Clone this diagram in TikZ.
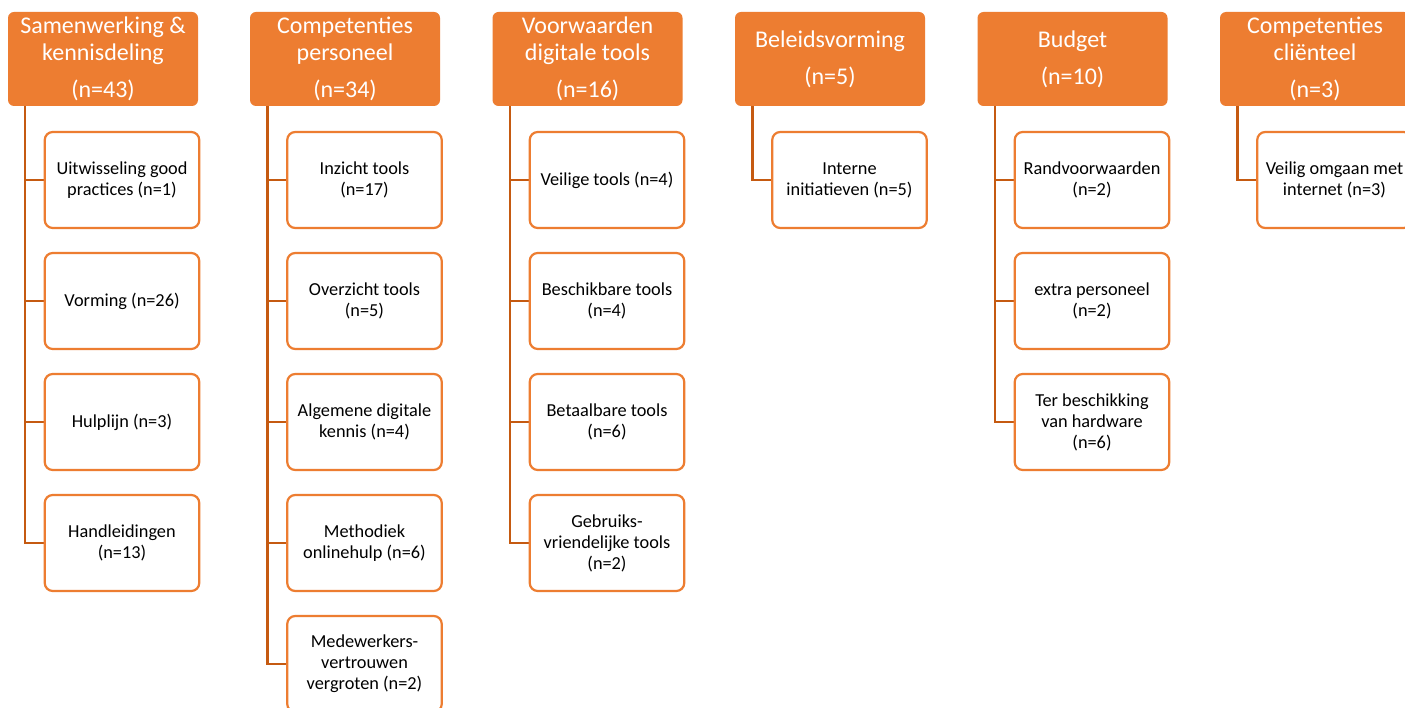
\documentclass[tikz,border=0pt]{standalone}
\usepackage{fontspec}
\setmainfont{Carlito}
\usetikzlibrary{backgrounds}
\definecolor{hdr}{HTML}{ED7D31}
\definecolor{brd}{HTML}{ED7D31}
\definecolor{lnk}{HTML}{C55A11}
\begin{document}
\begin{tikzpicture}[x=1pt,y=-1pt,
 header/.style={fill=hdr, text=white, rounded corners=6pt, minimum width=190pt, minimum height=94pt, align=center, inner sep=0pt, font=\fontsize{24}{26.5}\selectfont},
 child/.style={draw=brd, line width=2.2pt, fill=white, rounded corners=8pt, minimum width=154.5pt, minimum height=96pt, align=center, inner sep=0pt, font=\fontsize{18.3}{21}\selectfont},
 link/.style={draw=lnk, line width=2.4pt}]
\useasboundingbox (0,0) rectangle (1405,708);
\clip (0,0) rectangle (1405,708);
\begin{scope}[on background layer]
\fill[white] (0,0) rectangle (1405,708);
\end{scope}
% headers
\node[header] (h1) at (103,59) {Samenwerking \&\\kennisdeling\\[10.5pt](n=43)};
\node[header] (h2) at (345,59) {Competenties\\personeel\\[10.5pt](n=34)};
\node[header] (h3) at (587.5,59) {Voorwaarden\\digitale tools\\[10.5pt](n=16)};
\node[header] (h4) at (830,59) {Beleidsvorming\\[10.5pt](n=5)};
\node[header] (h5) at (1072.5,59) {Budget\\[10.5pt](n=10)};
\node[header] (h6) at (1315,59) {Competenties\\cliënteel\\[10.5pt](n=3)};
% trunk tops
\coordinate (t1) at (25,106);
\coordinate (t2) at (267.5,106);
\coordinate (t3) at (510,106);
\coordinate (t4) at (752.5,106);
\coordinate (t5) at (995,106);
\coordinate (t6) at (1237.5,106);
% column 1
\node[child] (c11) at (122,180) {Uitwisseling good\\practices (n=1)};
\node[child] (c12) at (122,301) {Vorming (n=26)};
\node[child] (c13) at (122,422) {Hulplijn (n=3)};
\node[child] (c14) at (122,543) {Handleidingen\\(n=13)};
% column 2
\node[child] (c21) at (364.5,180) {Inzicht tools\\(n=17)};
\node[child] (c22) at (364.5,301) {Overzicht tools\\(n=5)};
\node[child] (c23) at (364.5,422) {Algemene digitale\\kennis (n=4)};
\node[child] (c24) at (364.5,543) {Methodiek\\onlinehulp (n=6)};
\node[child] (c25) at (364.5,664) {Medewerkers-\\vertrouwen\\vergroten (n=2)};
% column 3
\node[child] (c31) at (607,180) {Veilige tools (n=4)};
\node[child] (c32) at (607,301) {Beschikbare tools\\(n=4)};
\node[child] (c33) at (607,422) {Betaalbare tools\\(n=6)};
\node[child] (c34) at (607,543) {Gebruiks-\\vriendelijke tools\\(n=2)};
% column 4
\node[child] (c41) at (849.5,180) {Interne\\initiatieven (n=5)};
% column 5
\node[child] (c51) at (1092,180) {Randvoorwaarden\\(n=2)};
\node[child] (c52) at (1092,301) {extra personeel\\(n=2)};
\node[child] (c53) at (1092,422) {Ter beschikking\\van hardware\\(n=6)};
% column 6
\node[child] (c61) at (1334.5,180) {Veilig omgaan met\\internet (n=3)};
% connectors
\begin{scope}[on background layer]
\foreach \t/\c in {t1/c11,t1/c12,t1/c13,t1/c14,
                   t2/c21,t2/c22,t2/c23,t2/c24,t2/c25,
                   t3/c31,t3/c32,t3/c33,t3/c34,
                   t4/c41,
                   t5/c51,t5/c52,t5/c53,
                   t6/c61}
  \draw[link] (\t) |- (\c.west);
\end{scope}
\end{tikzpicture}
\end{document}
